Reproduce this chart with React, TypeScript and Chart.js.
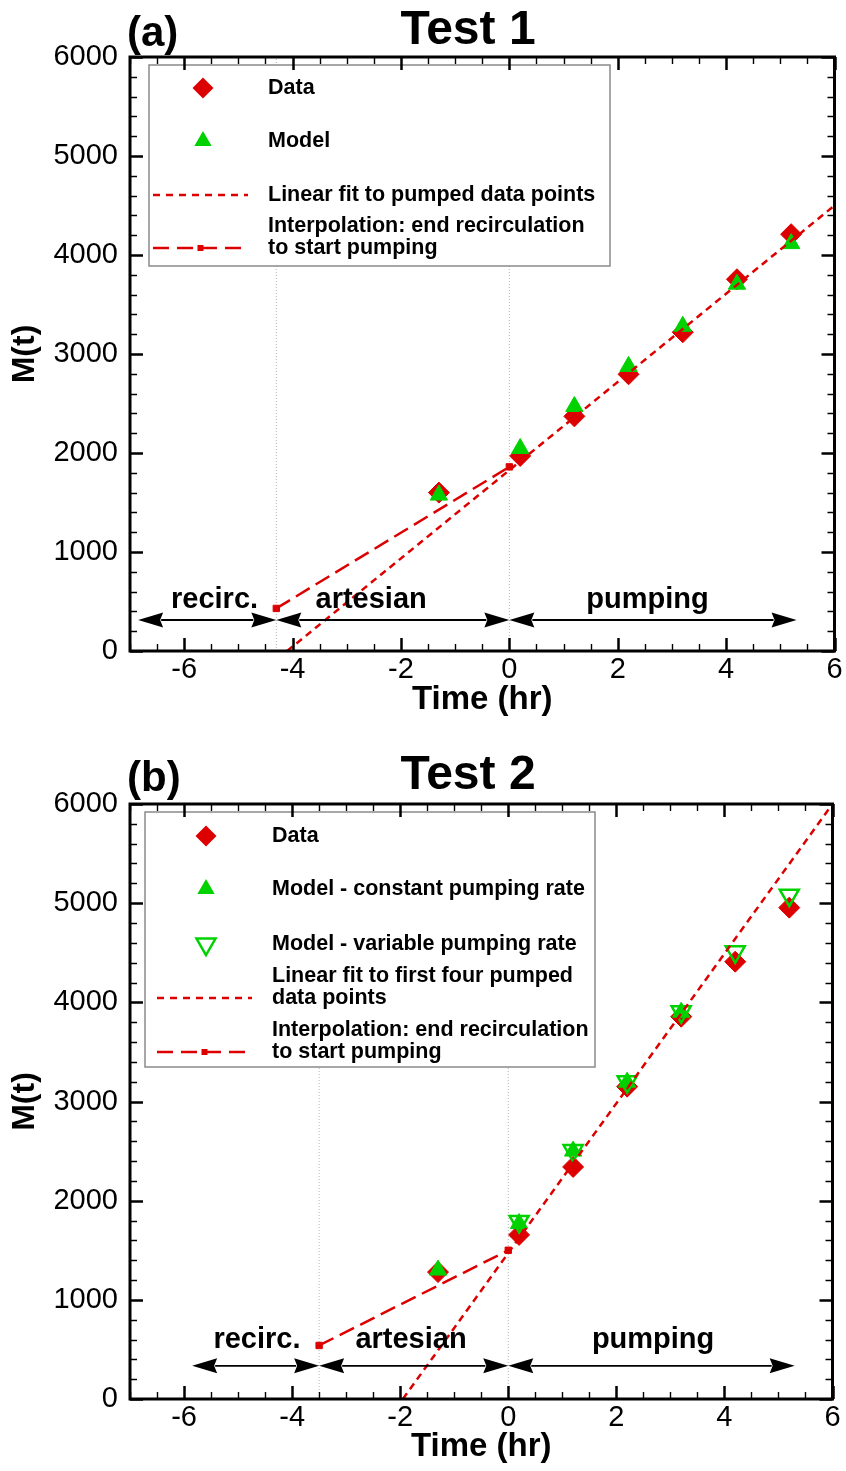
import React, { useEffect, useRef } from 'react';
import { Chart, registerables } from 'chart.js';

Chart.register(...registerables);

const FONT = '"Liberation Sans", Arial, Helvetica, sans-serif';
const RED = '#dd0000';
const GREEN = '#00d200';
const W = 846;

// ---------- shared axes ----------
const xTicks = [-6, -4, -2, 0, 2, 4, 6];
const yTicks = [0, 1000, 2000, 3000, 4000, 5000, 6000];
const xMin = -7;
const xMax = 6;
const phaseNames = ['recirc.', 'artesian', 'pumping'];

// ---------- Test 1 ----------
const timeA = [-1.3, 0.2, 1.2, 2.2, 3.2, 4.2, 5.2];
const dataA = [1600, 1970, 2370, 2795, 3220, 3755, 4210];
const modelA = [1575, 2045, 2470, 2875, 3280, 3705, 4115];
const fitTimeA = [-4.1, 6];
const fitA = [0, 4500];
const interpTimeA = [-4.3, 0];
const interpA = [430, 1860];
const boundaryTimesA = [-4.3, 0];
const phaseStartA = [-6.85, -4.3, 0];
const phaseEndA = [-4.3, 0, 5.3];
const phaseLabelTimesA = [-5.44, -2.55, 2.55];
const phaseLabelLevelA = 515;
const phaseArrowLevelA = 313;

// ---------- Test 2 ----------
const timeB = [-1.3, 0.2, 1.2, 2.2, 3.2, 4.2, 5.2];
const dataB = [1280, 1655, 2340, 3150, 3855, 4410, 4955];
const constTimeB = [-1.3, 0.2, 1.2, 2.2, 3.2];
const constB = [1300, 1770, 2500, 3195, 3900];
const varTimeB = [0.2, 1.2, 2.2, 3.2, 4.2, 5.2];
const varB = [1790, 2505, 3200, 3905, 4510, 5080];
const fitTimeB = [-1.95, 6];
const fitB = [0, 6000];
const interpTimeB = [-3.5, 0];
const interpB = [540, 1500];
const boundaryTimesB = [-3.5, 0];
const phaseStartB = [-5.85, -3.5, 0];
const phaseEndB = [-3.5, 0, 5.3];
const phaseLabelTimesB = [-4.65, -1.8, 2.68];
const phaseLabelLevelB = 595;
const phaseArrowLevelB = 335;

function pts(xs: number[], ys: number[]) {
  return xs.map((x, i) => ({ x, y: ys[i] }));
}

function drawMarker(ctx: CanvasRenderingContext2D, kind: string, x: number, y: number) {
  ctx.save();
  if (kind === 'diamond') {
    const r = 10.5;
    ctx.beginPath();
    ctx.moveTo(x - r, y); ctx.lineTo(x, y - r); ctx.lineTo(x + r, y); ctx.lineTo(x, y + r);
    ctx.closePath();
    ctx.fillStyle = RED; ctx.fill();
  } else if (kind === 'tri') {
    const r = 10;
    ctx.beginPath();
    for (let k = 0; k < 3; k++) {
      const a = k * (2 * Math.PI / 3);
      const px = x + Math.sin(a) * r, py = y - Math.cos(a) * r;
      if (k === 0) ctx.moveTo(px, py); else ctx.lineTo(px, py);
    }
    ctx.closePath();
    ctx.fillStyle = GREEN; ctx.fill();
  } else if (kind === 'downtri') {
    const r = 11;
    ctx.beginPath();
    for (let k = 0; k < 3; k++) {
      const a = Math.PI + k * (2 * Math.PI / 3);
      const px = x + Math.sin(a) * r, py = y - Math.cos(a) * r;
      if (k === 0) ctx.moveTo(px, py); else ctx.lineTo(px, py);
    }
    ctx.closePath();
    ctx.strokeStyle = GREEN; ctx.lineWidth = 2.5; ctx.stroke();
  }
  ctx.restore();
}

function drawArrow(ctx: CanvasRenderingContext2D, xa: number, xb: number, y: number) {
  const head = 25, hw = 7.5;
  ctx.lineWidth = 1.8;
  ctx.beginPath(); ctx.moveTo(xa + head - 2, y); ctx.lineTo(xb - head + 2, y); ctx.stroke();
  ctx.beginPath(); ctx.moveTo(xa, y); ctx.lineTo(xa + head, y - hw); ctx.lineTo(xa + head - 3, y); ctx.lineTo(xa + head, y + hw); ctx.closePath(); ctx.fill();
  ctx.beginPath(); ctx.moveTo(xb, y); ctx.lineTo(xb - head, y - hw); ctx.lineTo(xb - head + 3, y); ctx.lineTo(xb - head, y + hw); ctx.closePath(); ctx.fill();
}

function makeDeco(spec: any) {
  return {
    id: 'deco',
    afterDatasetsDraw(chart: any) {
      const ctx: CanvasRenderingContext2D = chart.ctx;
      const xs = chart.scales.x, ys = chart.scales.y;
      ctx.save();
      ctx.fillStyle = '#000'; ctx.strokeStyle = '#000';
      const ay = ys.getPixelForValue(spec.arrowLevel);
      spec.phaseStart.forEach((t0: number, i: number) => {
        drawArrow(ctx, xs.getPixelForValue(t0), xs.getPixelForValue(spec.phaseEnd[i]), ay);
      });
      ctx.font = `bold 29px ${FONT}`;
      ctx.textAlign = 'center'; ctx.textBaseline = 'middle';
      const ly = ys.getPixelForValue(spec.labelLevel);
      phaseNames.forEach((n, i) => ctx.fillText(n, xs.getPixelForValue(spec.labelTimes[i]), ly));

      // legend
      const L = spec.legend;
      ctx.fillStyle = '#fff';
      ctx.fillRect(L.x0, L.y0, L.x1 - L.x0, L.y1 - L.y0);
      ctx.strokeStyle = '#8a8a8a'; ctx.lineWidth = 1.5;
      ctx.strokeRect(L.x0, L.y0, L.x1 - L.x0, L.y1 - L.y0);
      ctx.font = `bold 21.5px ${FONT}`;
      ctx.textAlign = 'left'; ctx.textBaseline = 'middle'; ctx.fillStyle = '#000';
      L.items.forEach((it: any) => {
        if (it.kind === 'fit' || it.kind === 'interp') {
          ctx.save();
          ctx.strokeStyle = RED; ctx.lineWidth = 2.5;
          ctx.setLineDash(it.kind === 'fit' ? [7, 6] : [16, 8]);
          ctx.beginPath(); ctx.moveTo(L.lineX0, it.y); ctx.lineTo(L.lineX1, it.y); ctx.stroke();
          if (it.kind === 'interp') {
            ctx.fillStyle = RED;
            const mx = (L.lineX0 + L.lineX1) / 2;
            ctx.fillRect(mx - 3, it.y - 3, 6, 6);
          }
          ctx.restore();
        } else {
          drawMarker(ctx, it.kind, L.markerX, it.y);
        }
        ctx.fillStyle = '#000';
        const n = it.text.length;
        it.text.forEach((t: string, j: number) => ctx.fillText(t, L.textX, it.y - (n - 1 - j) * 22));
      });
      ctx.restore();
    },
    afterDraw(chart: any) {
      const ctx: CanvasRenderingContext2D = chart.ctx;
      const { left, right, top, bottom } = chart.chartArea;
      const xs = chart.scales.x, ys = chart.scales.y;
      ctx.save();
      ctx.strokeStyle = '#000';
      // ticks
      for (let v = xMin; v <= xMax + 1e-9; v += 0.5) {
        const major = Math.abs(v / 2 - Math.round(v / 2)) < 1e-9;
        const px = Math.round(xs.getPixelForValue(v)) + 0.5;
        const len = major ? 13 : 7;
        ctx.lineWidth = major ? 2.5 : 1.4;
        ctx.beginPath();
        ctx.moveTo(px, bottom); ctx.lineTo(px, bottom - len);
        ctx.moveTo(px, top); ctx.lineTo(px, top + len);
        ctx.stroke();
      }
      for (let v = 0; v <= 6000; v += 200) {
        const major = v % 1000 === 0;
        const py = Math.round(ys.getPixelForValue(v)) + 0.5;
        const len = major ? 13 : 7;
        ctx.lineWidth = major ? 2.5 : 1.4;
        ctx.beginPath();
        ctx.moveTo(left, py); ctx.lineTo(left + len, py);
        ctx.moveTo(right, py); ctx.lineTo(right - len, py);
        ctx.stroke();
      }
      ctx.lineWidth = 3;
      ctx.strokeRect(left, top, right - left, bottom - top);
      // panel label and title
      ctx.fillStyle = '#000';
      ctx.textBaseline = 'middle';
      ctx.textAlign = 'left';
      ctx.font = `bold 42px ${FONT}`;
      ctx.fillText(spec.panel, 127, spec.titleY + 3);
      ctx.textAlign = 'center';
      ctx.font = `bold 48px ${FONT}`;
      ctx.fillText(spec.title, 468, spec.titleY);
      ctx.restore();
    },
  };
}

function makeConfig(spec: any) {
  const boundaryDs = spec.boundaries.map((t: number) => ({
    data: [{ x: t, y: yTicks[0] }, { x: t, y: yTicks[yTicks.length - 1] }],
    showLine: true, borderColor: '#b4b4b4', borderWidth: 1, borderDash: [1, 2],
    pointRadius: 0, order: 10,
  }));
  return {
    type: 'scatter',
    data: { datasets: [...spec.datasets, ...boundaryDs] },
    options: {
      responsive: false,
      animation: false,
      events: [],
      layout: { padding: { top: spec.plotTop, right: W - 835, left: 0, bottom: 0 } },
      plugins: { legend: { display: false }, tooltip: { enabled: false } },
      scales: {
        x: {
          type: 'linear', min: xMin, max: xMax,
          grid: { display: false, drawTicks: false },
          border: { display: false },
          ticks: {
            font: { family: FONT, size: 29 }, color: '#000', padding: 2, maxRotation: 0, autoSkip: false,
            callback: (v: any) => String(v),
          },
          afterBuildTicks: (s: any) => { s.ticks = xTicks.map((v) => ({ value: v })); },
          afterFit: (s: any) => {
            s.height = spec.height - spec.plotBottom;
            s.paddingLeft = 0; s.paddingRight = 0; s.paddingTop = 0; s.paddingBottom = 0;
          },
          title: {
            display: true, text: 'Time (hr)', color: '#000',
            font: { family: FONT, size: 33, weight: 'bold' },
            padding: { top: 0, bottom: spec.height - spec.xTitleY - 19.8 },
          },
        },
        y: {
          type: 'linear', min: 0, max: 6000,
          grid: { display: false, drawTicks: false },
          border: { display: false },
          ticks: {
            font: { family: FONT, size: 29 }, color: '#000', padding: 12, autoSkip: false,
            callback: (v: any) => String(v),
          },
          afterBuildTicks: (s: any) => { s.ticks = yTicks.map((v) => ({ value: v })); },
          afterFit: (s: any) => {
            s.width = 130;
            s.paddingLeft = 0; s.paddingRight = 0; s.paddingTop = 0; s.paddingBottom = 0;
          },
          title: {
            display: true, text: 'M(t)', color: '#000',
            font: { family: FONT, size: 32, weight: 'bold' },
            padding: { top: 6, bottom: 0 },
          },
        },
      },
    },
    plugins: [makeDeco(spec)],
  };
}

const fitStyle = { showLine: true, borderColor: RED, borderWidth: 2.5, borderDash: [7, 5], pointRadius: 0 };
const interpStyle = {
  showLine: true, borderColor: RED, borderWidth: 2.5, borderDash: [16, 7],
  pointStyle: 'rect', pointRadius: 4.5, backgroundColor: RED, pointBorderColor: RED, pointBorderWidth: 1,
};
const diamondStyle = { pointStyle: 'rectRot', pointRadius: 10.5, backgroundColor: RED, borderColor: RED, borderWidth: 1 };
const triStyle = { pointStyle: 'triangle', pointRadius: 10, backgroundColor: GREEN, borderColor: GREEN, borderWidth: 1 };
const downTriStyle = {
  pointStyle: 'triangle', rotation: 180, pointRadius: 11,
  backgroundColor: 'rgba(0,0,0,0)', borderColor: GREEN, borderWidth: 2.5,
};

const specA = {
  panel: '(a)', title: 'Test 1', titleY: 31,
  height: 740, plotTop: 57, plotBottom: 651, xTitleY: 700,
  boundaries: boundaryTimesA,
  phaseStart: phaseStartA, phaseEnd: phaseEndA,
  labelTimes: phaseLabelTimesA, labelLevel: phaseLabelLevelA, arrowLevel: phaseArrowLevelA,
  datasets: [
    { label: 'Linear fit', data: pts(fitTimeA, fitA), ...fitStyle, order: 0 },
    { label: 'Interpolation', data: pts(interpTimeA, interpA), ...interpStyle, order: 1 },
    { label: 'Model', data: pts(timeA, modelA), ...triStyle, order: 2 },
    { label: 'Data', data: pts(timeA, dataA), ...diamondStyle, order: 3 },
  ],
  legend: {
    x0: 149, y0: 65, x1: 610, y1: 266, markerX: 203, textX: 268, lineX0: 153, lineX1: 248,
    items: [
      { kind: 'diamond', text: ['Data'], y: 88 },
      { kind: 'tri', text: ['Model'], y: 141 },
      { kind: 'fit', text: ['Linear fit to pumped data points'], y: 195 },
      { kind: 'interp', text: ['Interpolation: end recirculation', 'to start pumping'], y: 248 },
    ],
  },
};

const specB = {
  panel: '(b)', title: 'Test 2', titleY: 29,
  height: 724, plotTop: 57, plotBottom: 652, xTitleY: 700,
  boundaries: boundaryTimesB,
  phaseStart: phaseStartB, phaseEnd: phaseEndB,
  labelTimes: phaseLabelTimesB, labelLevel: phaseLabelLevelB, arrowLevel: phaseArrowLevelB,
  datasets: [
    { label: 'Linear fit', data: pts(fitTimeB, fitB), ...fitStyle, order: 0 },
    { label: 'Interpolation', data: pts(interpTimeB, interpB), ...interpStyle, order: 1 },
    { label: 'Model - variable pumping rate', data: pts(varTimeB, varB), ...downTriStyle, order: 2 },
    { label: 'Model - constant pumping rate', data: pts(constTimeB, constB), ...triStyle, order: 3 },
    { label: 'Data', data: pts(timeB, dataB), ...diamondStyle, order: 4 },
  ],
  legend: {
    x0: 145, y0: 65, x1: 595, y1: 320, markerX: 206, textX: 272, lineX0: 157, lineX1: 252,
    items: [
      { kind: 'diamond', text: ['Data'], y: 89 },
      { kind: 'tri', text: ['Model - constant pumping rate'], y: 142 },
      { kind: 'downtri', text: ['Model - variable pumping rate'], y: 197 },
      { kind: 'fit', text: ['Linear fit to first four pumped', 'data points'], y: 251 },
      { kind: 'interp', text: ['Interpolation: end recirculation', 'to start pumping'], y: 305 },
    ],
  },
};

function Panel({ spec, top }: { spec: any; top: number }) {
  const ref = useRef<HTMLCanvasElement | null>(null);
  useEffect(() => {
    const chart = new Chart(ref.current as HTMLCanvasElement, makeConfig(spec) as any);
    return () => chart.destroy();
  }, []);
  return (
    <canvas
      ref={ref}
      width={W}
      height={spec.height}
      style={{ position: 'absolute', left: 0, top, width: W, height: spec.height, display: 'block' }}
    />
  );
}

export default function App() {
  return (
    <div style={{ position: 'absolute', left: 0, top: 0, width: W, height: 1471, background: '#fff' }}>
      <Panel spec={specA} top={0} />
      <Panel spec={specB} top={747} />
    </div>
  );
}
